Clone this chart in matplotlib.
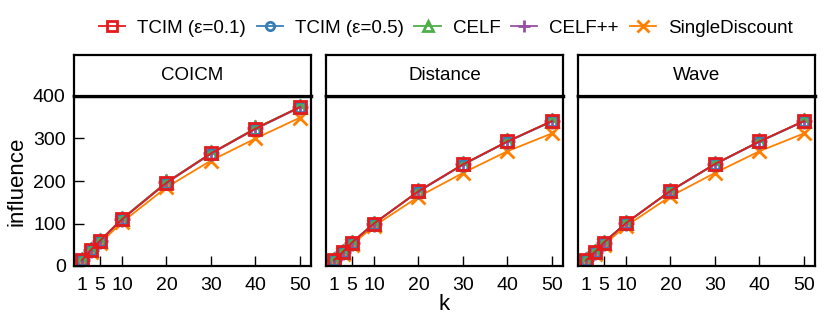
import numpy as np
import matplotlib
matplotlib.use("Agg")
import matplotlib.pyplot as plt
from matplotlib.lines import Line2D

plt.rcParams['font.family'] = ['Liberation Sans', 'DejaVu Sans']

k = [1, 3, 5, 10, 20, 30, 40, 50]
panels = ["COICM", "Distance", "Wave"]
methods = ["TCIM (ε=0.1)", "TCIM (ε=0.5)", "CELF", "CELF++", "SingleDiscount"]

# influence per panel, per method
data = {
    "COICM": {
        "TCIM (ε=0.1)": [14, 38, 59, 110, 196, 265, 323, 374],
        "TCIM (ε=0.5)": [14, 38, 58, 110, 195, 264, 322, 373],
        "CELF": [14, 38, 59, 111, 197, 265, 324, 374],
        "CELF++": [14, 38, 59, 111, 197, 265, 324, 374],
        "SingleDiscount": [12, 33, 53, 103, 185, 248, 300, 349],
    },
    "Distance": {
        "TCIM (ε=0.1)": [14, 33, 55, 100, 176, 239, 293, 341],
        "TCIM (ε=0.5)": [14, 33, 55, 100, 175, 238, 292, 340],
        "CELF": [14, 33, 55, 100, 176, 239, 293, 341],
        "CELF++": [14, 33, 55, 100, 176, 239, 293, 341],
        "SingleDiscount": [11, 29, 50, 94, 163, 219, 270, 312],
    },
    "Wave": {
        "TCIM (ε=0.1)": [13, 33, 55, 101, 177, 240, 293, 341],
        "TCIM (ε=0.5)": [13, 33, 55, 101, 176, 239, 292, 340],
        "CELF": [13, 33, 55, 101, 177, 240, 293, 341],
        "CELF++": [13, 33, 55, 101, 177, 240, 293, 341],
        "SingleDiscount": [11, 29, 50, 94, 164, 219, 270, 312],
    },
}

colors = ["#E41A1C", "#377EB8", "#4DAF4A", "#984EA3", "#FF7F00"]
markers = ["s", "o", "^", "+", "x"]
sizes = [9, 8, 9, 11, 10]

W, H = 830, 331
fig = plt.figure(figsize=(8.3, 3.31), dpi=100)

lefts = [74, 326, 578]
pw = 237
ax_top, ax_bot = 96, 266
strip_top = 55

for i, name in enumerate(panels):
    ax = fig.add_axes([lefts[i] / W, (H - ax_bot) / H, pw / W, (ax_bot - ax_top) / H])
    for j in reversed(range(len(methods))):
        m = methods[j]
        ax.plot(k, data[name][m], color=colors[j], marker=markers[j], ms=sizes[j],
                mfc='none', mew=2, lw=1.3)
    ax.set_xlim(-0.8, 52.5)
    ax.set_ylim(0, 400)
    ax.set_xticks([1, 5, 10, 20, 30, 40, 50])
    ax.set_yticks([0, 100, 200, 300, 400])
    ax.tick_params(direction='in', length=7, width=1, labelsize=14, pad=8)
    ax.tick_params(axis='y', pad=6)
    if i > 0:
        ax.set_yticklabels([])
        ax.tick_params(axis='y', length=0)
    for s in ax.spines.values():
        s.set_linewidth(1.6)
    ax.spines['top'].set_linewidth(2.5)

    sx = fig.add_axes([lefts[i] / W, (H - ax_top) / H, pw / W, (ax_top - strip_top) / H])
    sx.set_xticks([])
    sx.set_yticks([])
    for s in sx.spines.values():
        s.set_linewidth(1.6)
    sx.text(0.5, 0.5, name, ha='center', va='center', fontsize=13.5, transform=sx.transAxes)

    if i == 0:
        ax.set_ylabel("influence", fontsize=16, labelpad=4)
    if i == 1:
        ax.set_xlabel("k", fontsize=16, labelpad=0)

handles = [Line2D([], [], color=colors[j], marker=markers[j], ms=sizes[j] - 2, mfc='none',
                  mew=2, lw=1.3) for j in range(len(methods))]
fig.legend(handles, methods, loc='center', bbox_to_anchor=(0.537, 0.915), ncol=5,
           frameon=False, fontsize=13.5, handlelength=1.4, handletextpad=0.63,
           columnspacing=0.58, borderpad=0, borderaxespad=0)

fig.savefig("out.png", dpi=100)
